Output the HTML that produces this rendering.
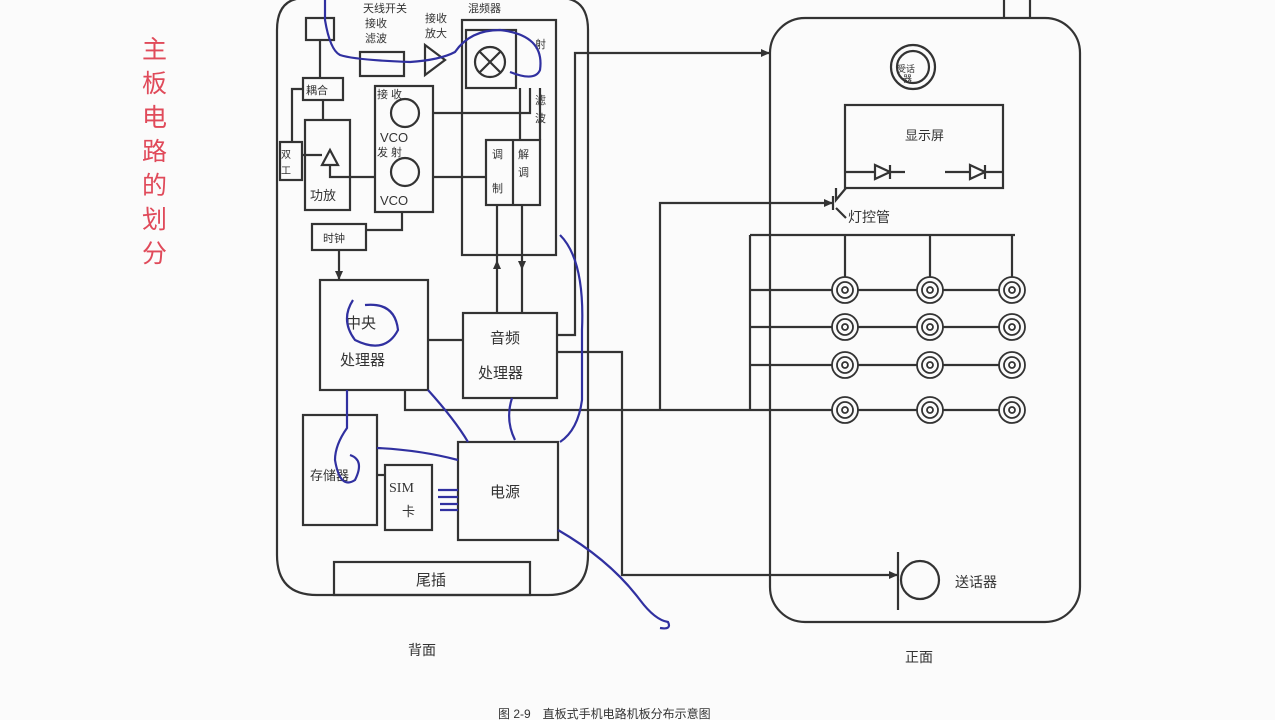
<!DOCTYPE html>
<html><head><meta charset="utf-8"><style>
html,body{margin:0;padding:0;background:#fbfbfb;}
svg{display:block;}
text{font-family:"Liberation Sans","Noto Sans CJK SC",sans-serif;fill:#333;}
</style></head><body>
<svg width="1275" height="720" viewBox="0 0 1275 720" xmlns="http://www.w3.org/2000/svg">
<rect width="1275" height="720" fill="#fbfbfb"/>
<g font-size="25">
<text x="142" y="58" style="fill:#e04a5a">主</text>
<text x="142" y="92" style="fill:#e04a5a">板</text>
<text x="142" y="126" style="fill:#e04a5a">电</text>
<text x="142" y="160" style="fill:#e04a5a">路</text>
<text x="142" y="194" style="fill:#e04a5a">的</text>
<text x="142" y="228" style="fill:#e04a5a">划</text>
<text x="142" y="262" style="fill:#e04a5a">分</text>
</g>
<g fill="none" stroke="#333" stroke-width="2.2">
<path d="M305,-2 Q277,-2 277,30 V555 Q277,595 317,595 H548 Q588,595 588,555 V30 Q588,-2 560,-2"/>
<rect x="770" y="18" width="310" height="604" rx="35"/>
<line x1="1004" y1="0" x2="1004" y2="18"/><line x1="1030" y1="0" x2="1030" y2="18"/>
<rect x="306" y="18" width="28" height="22"/>
<rect x="360" y="52" width="44" height="24"/>
<path d="M425,45 L445,60 L425,75 Z"/>
<rect x="462" y="20" width="94" height="235"/>
<rect x="466" y="30" width="50" height="58"/>
<circle cx="490" cy="62" r="15"/><line x1="480" y1="52" x2="500" y2="72"/><line x1="500" y1="52" x2="480" y2="72"/>
<rect x="303" y="78" width="40" height="22"/>
<rect x="305" y="120" width="45" height="90"/>
<path d="M322,165 L330,150 L338,165 Z"/>
<rect x="280" y="142" width="22" height="38"/>
<rect x="375" y="86" width="58" height="126"/>
<circle cx="405" cy="113" r="14"/><circle cx="405" cy="172" r="14"/>
<rect x="486" y="140" width="54" height="65"/><line x1="513" y1="140" x2="513" y2="205"/>
<rect x="312" y="224" width="54" height="26"/>
<rect x="320" y="280" width="108" height="110"/>
<rect x="463" y="313" width="94" height="85"/>
<rect x="303" y="415" width="74" height="110"/>
<rect x="385" y="465" width="47" height="65"/>
<rect x="458" y="442" width="100" height="98"/>
<rect x="334" y="562" width="196" height="33"/>
<path d="M320,40 V78 M323,100 V120 M303,89 H292 V142 M302,155 H322 M330,165 V177 H375"/>
<path d="M433,113 H530 V88 M433,177 H486 M520,88 V140 M540,88 V140"/>
<path d="M402,212 V230 H366 M339,250 V280"/>
<path d="M497,205 V313 M522,205 V313"/>
<path d="M428,340 H463"/>
<path d="M405,390 V410 H750"/>
<path d="M377,475 H385"/>
<path d="M557,335 H575 V53 H770"/>
<path d="M557,352 H622 V575 H898"/>
<path d="M660,410 V203 H833"/>
<circle cx="913" cy="67" r="22"/><circle cx="913" cy="67" r="16"/>
<rect x="845" y="105" width="158" height="83"/>
<path d="M875,165 L890,172 L875,179 Z M890,165 V179 M875,172 H845 M890,172 H905"/>
<path d="M970,165 L985,172 L970,179 Z M985,165 V179 M970,172 H945 M985,172 H1003"/>
<path d="M833,196 V210 M836,188 V200 L846,188 M836,208 L846,218"/>
<path d="M750,235 V410 M750,235 H1015"/>
<path d="M845,235 V290 M930,235 V290 M1012,235 V290"/>
<path d="M750,290 H1012 M750,327 H1012 M750,365 H1012 M750,410 H1012"/>
<path d="M898,552 V610"/>
<circle cx="920" cy="580" r="19"/>
</g>
<g fill="#333">
<path d="M833,203 l-9,-4 v8 Z"/><path d="M898,575 l-9,-4 v8 Z"/><path d="M770,53 l-9,-4 v8 Z"/>
<path d="M339,280 l-4,-9 h8 Z"/><path d="M497,260 l-4,9 h8 Z"/><path d="M522,270 l-4,-9 h8 Z"/>
</g>
<g fill="#fbfbfb" stroke="#333" stroke-width="1.8">
<g id="k"><circle cx="845" cy="290" r="13"/><circle cx="845" cy="290" r="8"/><circle cx="845" cy="290" r="3"/></g>
<use href="#k" x="85"/><use href="#k" x="167"/>
<use href="#k" y="37"/><use href="#k" x="85" y="37"/><use href="#k" x="167" y="37"/>
<use href="#k" y="75"/><use href="#k" x="85" y="75"/><use href="#k" x="167" y="75"/>
<use href="#k" y="120"/><use href="#k" x="85" y="120"/><use href="#k" x="167" y="120"/>
</g>
<g font-size="11">
<text x="363" y="12">天线开关</text><text x="365" y="27">接收</text><text x="365" y="42">滤波</text>
<text x="425" y="22">接收</text><text x="425" y="37">放大</text>
<text x="468" y="12">混频器</text>
<text x="306" y="94">耦合</text>
<text x="281" y="158" font-size="10">双</text><text x="281" y="174" font-size="10">工</text>
<text x="310" y="200" font-size="13">功放</text>
<text x="377" y="98">接   收</text><text x="380" y="142" font-size="13">VCO</text>
<text x="377" y="156">发   射</text><text x="380" y="205" font-size="13">VCO</text>
<text x="492" y="158">调</text><text x="492" y="192">制</text>
<text x="518" y="158">解</text><text x="518" y="176">调</text>
<text x="535" y="48">射</text><text x="535" y="104">滤</text><text x="535" y="122">波</text>
<text x="323" y="242">时钟</text>
</g>
<g font-size="15">
<text x="346" y="328">中央</text><text x="340" y="365">处理器</text>
<text x="490" y="343">音频</text><text x="478" y="378">处理器</text>
<text x="310" y="480" font-size="13">存储器</text>
<text x="389" y="492" font-size="14" style="font-family:'Liberation Serif',serif">SIM</text><text x="402" y="516" font-size="13">卡</text>
<text x="490" y="497">电源</text>
<text x="416" y="585">尾插</text>
<text x="897" y="72" font-size="9">受话</text><text x="903" y="82" font-size="9">器</text>
<text x="905" y="140" font-size="13">显示屏</text>
<text x="848" y="222" font-size="14">灯控管</text>
<text x="955" y="587" font-size="14">送话器</text>
<text x="408" y="655" font-size="14">背面</text>
<text x="905" y="662" font-size="14">正面</text>
<text x="498" y="718" font-size="12">图 2-9　直板式手机电路机板分布示意图</text>
</g>
<g fill="none" stroke="#3030a0" stroke-width="2.2">
<path d="M325,0 V20 Q330,50 340,55 Q355,60 410,62 Q440,60 455,52 Q470,30 500,30 Q545,35 540,70 Q535,82 510,72"/>
<path d="M560,235 Q585,260 582,330 V400 Q578,430 560,442"/>
<path d="M353,300 Q340,320 355,340 Q385,355 398,330 Q395,302 365,305"/>
<path d="M428,390 Q455,420 468,442"/>
<path d="M512,398 Q505,420 515,440"/>
<path d="M347,390 V428 Q335,445 335,460 Q340,490 355,480 Q365,460 350,455"/>
<path d="M377,448 Q420,450 458,460"/>
<path d="M438,490 H458 M438,497 H458 M440,504 H458 M440,510 H458"/>
<path d="M558,530 Q610,560 640,600 Q655,620 668,622 Q672,630 660,628"/>
</g>
</svg>
</body></html>
